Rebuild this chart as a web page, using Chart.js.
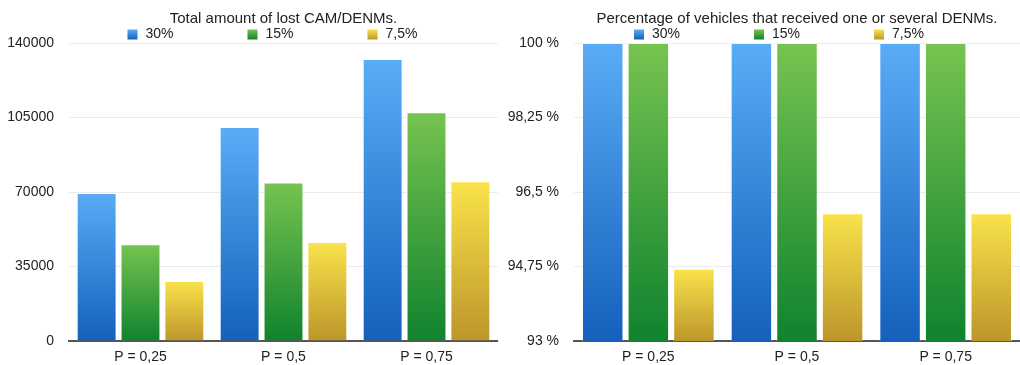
<!DOCTYPE html>
<html>
<head>
<meta charset="utf-8">
<script src="https://cdn.jsdelivr.net/npm/chart.js@4.4.1/dist/chart.umd.min.js"></script>
<style>
  html, body { margin: 0; padding: 0; background: #fff; }
  #wrap { position: relative; width: 1020px; height: 365px; overflow: hidden; }
  .panel { position: absolute; top: 0; height: 365px; }
  #lostPanel { left: 0; width: 498px; }
  #recvPanel { left: 500px; width: 520px; }
</style>
</head>
<body>
<div id="wrap">
  <div class="panel" id="lostPanel"><canvas id="lostChart"></canvas></div>
  <div class="panel" id="recvPanel"><canvas id="recvChart"></canvas></div>
</div>
<script>
// ---- data ----
const categories = ['P = 0,25', 'P = 0,5', 'P = 0,75'];
const seriesNames = ['30%', '15%', '7,5%'];

// lost CAM/DENM messages
const lost30 = [69500, 100500, 132500];
const lost15 = [45500, 74500, 107500];
const lost75 = [28200, 46500, 75000];
const lostTicks = [0, 35000, 70000, 105000, 140000];
const lostTickLabels = ['0', '35000', '70000', '105000', '140000'];

// vehicles that got at least one DENM (%)
const recv30 = [100, 100, 100];
const recv15 = [100, 100, 100];
const recv75 = [94.7, 96.0, 96.0];
const recvTicks = [93, 94.75, 96.5, 98.25, 100];
const recvTickLabels = ['93 %', '94,75 %', '96,5 %', '98,25 %', '100 %'];

// ---- look ----
const FONT = "'Liberation Sans', Arial, Helvetica, sans-serif";
const TEXT = '#222';
Chart.defaults.font.family = FONT;
Chart.defaults.color = TEXT;

// top / bottom colour of each series gradient
const palette = [
  ['#5aacf7', '#1460bc'],
  ['#77c350', '#10832e'],
  ['#fae34b', '#bc962b'],
];

// vertical gradient running over the bar's own height
function barFill(stops) {
  return ctx => {
    const chart = ctx.chart;
    if (!chart.chartArea || ctx.type !== 'data') return stops[1];
    const y = chart.scales.y;
    const top = y.getPixelForValue(ctx.raw);
    const base = y.getPixelForValue(y.min);
    const g = chart.ctx.createLinearGradient(0, top, 0, base);
    g.addColorStop(0, stops[0]);
    g.addColorStop(1, stops[1]);
    return g;
  };
}

// legend with wide, even spacing between the entries
const spacedLegend = {
  id: 'spacedLegend',
  afterDraw(chart, args, opts) {
    const { ctx, chartArea } = chart;
    const x0 = (chartArea.left + chartArea.right) / 2 + opts.shift;
    ctx.save();
    ctx.font = '14px ' + FONT;
    ctx.textBaseline = 'middle';
    ctx.textAlign = 'left';
    chart.data.datasets.forEach((ds, i) => {
      const x = x0 + i * opts.step;
      const g = ctx.createLinearGradient(0, opts.y - 5, 0, opts.y + 5);
      g.addColorStop(0, ds.stops[0]);
      g.addColorStop(1, ds.stops[1]);
      ctx.fillStyle = g;
      ctx.fillRect(x, opts.y - 5, 10, 10);
      ctx.fillStyle = TEXT;
      ctx.fillText(ds.label, x + 18, opts.y);
    });
    ctx.restore();
  },
};

function makeChart(id, title, series, ticks, tickLabels, axisWidth, legendShift) {
  return new Chart(document.getElementById(id), {
    type: 'bar',
    data: {
      labels: categories,
      datasets: series.map((values, i) => ({
        label: seriesNames[i],
        data: values,
        stops: palette[i],
        backgroundColor: barFill(palette[i]),
        borderColor: 'rgba(255,255,255,0.4)',
        borderWidth: 1,
        categoryPercentage: 0.92,
        barPercentage: 0.91,
      })),
    },
    plugins: [spacedLegend],
    options: {
      responsive: true,
      maintainAspectRatio: false,
      animation: false,
      layout: { padding: 0 },
      plugins: {
        legend: { display: false },
        tooltip: { enabled: false },
        title: {
          display: true,
          text: title,
          color: TEXT,
          fullSize: false,
          font: { size: 15, weight: 'normal' },
          padding: { top: 10, bottom: 15 },
        },
        spacedLegend: { y: 34.5, step: 120, shift: legendShift },
      },
      scales: {
        x: {
          afterFit: s => { s.height = 24; },
          grid: { display: false, drawTicks: false },
          border: { display: true, color: '#555', width: 2 },
          ticks: { font: { size: 14 }, color: TEXT, padding: 8 },
        },
        y: {
          min: ticks[0],
          max: ticks[ticks.length - 1],
          afterBuildTicks: s => { s.ticks = ticks.map(v => ({ value: v })); },
          afterFit: s => { s.width = axisWidth; },
          grid: { color: '#ebebeb', lineWidth: 1, drawTicks: false },
          border: { display: false },
          ticks: {
            font: { size: 14 },
            color: TEXT,
            padding: 15,
            callback: (v, i) => tickLabels[i],
          },
        },
      },
    },
  });
}

makeChart('lostChart', 'Total amount of lost CAM/DENMs.',
  [lost30, lost15, lost75], lostTicks, lostTickLabels, 69, -156);
makeChart('recvChart', 'Percentage of vehicles that received one or several DENMs.',
  [recv30, recv15, recv75], recvTicks, recvTickLabels, 74, -163);
</script>
</body>
</html>
